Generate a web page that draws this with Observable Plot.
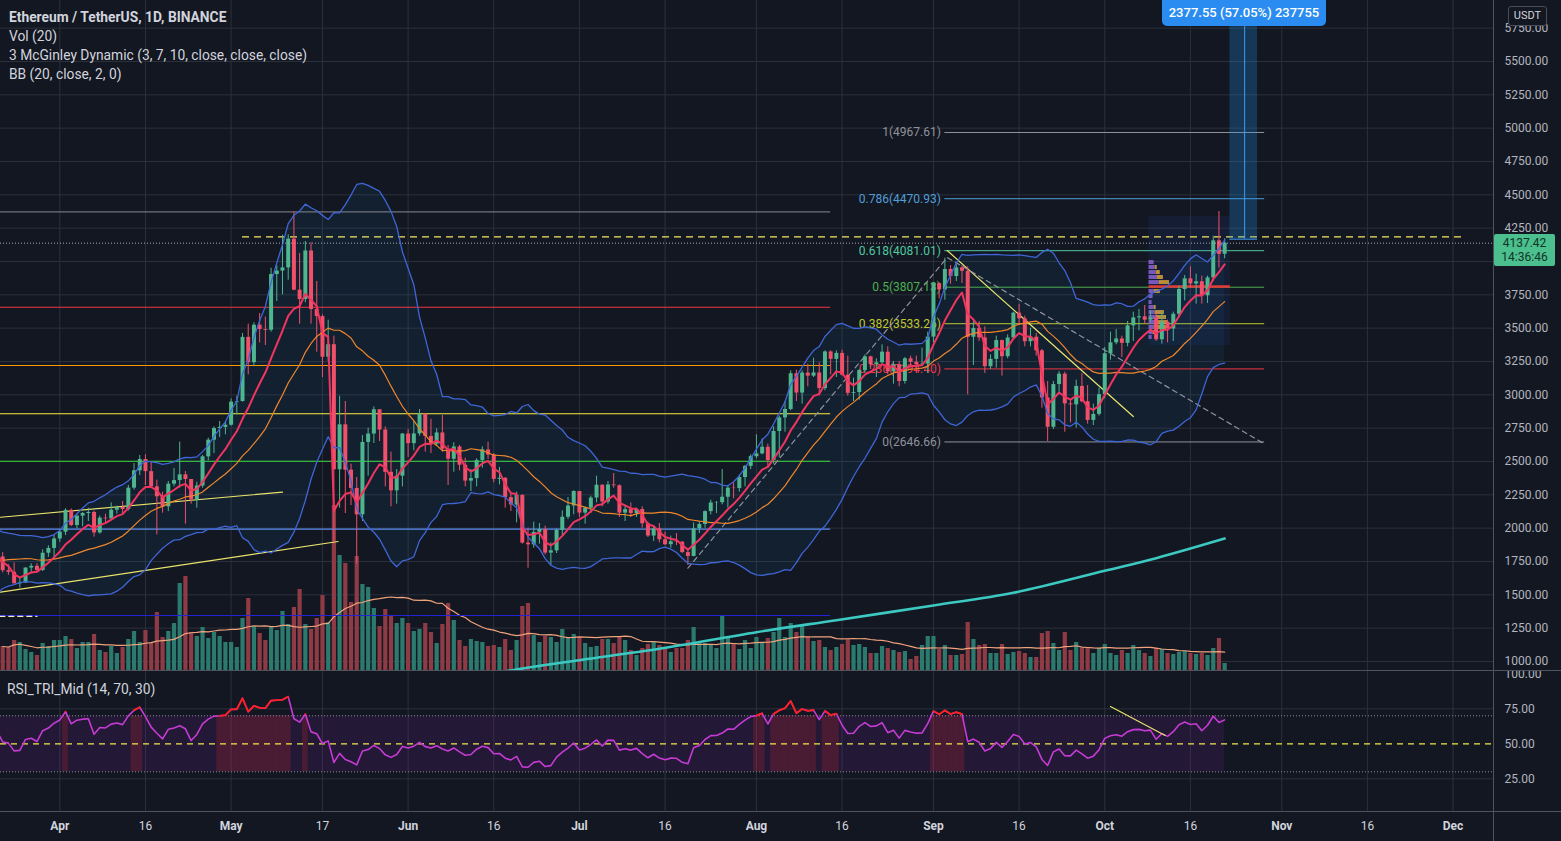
<!DOCTYPE html>
<html><head><meta charset="utf-8">
<script src="https://cdn.jsdelivr.net/npm/d3@7"></script>
<script src="https://cdn.jsdelivr.net/npm/@observablehq/plot@0.6"></script>
<style>
body{margin:0;background:#131722;}
#root{position:relative;width:1561px;height:841px;background:#131722;overflow:hidden;font-family:Roboto,"Liberation Sans",sans-serif;}
.layer{position:absolute;left:0;top:0;}
.layer svg{display:block;}
</style></head>
<body><div id="root"></div>
<script>
// ---------------- DATA ----------------
const startDate = "2021-03-22";
const warmupStart = "2021-03-01";
const warmupCloses = [1565,1478,1575,1541,1533,1654,1723,1834,1868,1796,1826,1772,1924,1854,1791,1806,1822,1782,1810,1806,1784];
const opens = [1784,1681,1669,1583,1588,1701,1714,1683,1812,1848,
1919,1970,2134,2020,2090,2110,2118,1964,2075,2070,2135,2155,2140,2300,2430,2515,2424,2310,2235,2160,2330,2357,2400,2365,2212,2316,2535,2660,2747,2756,
2772,2945,2950,3431,3241,3522,3490,3484,3902,3928,3952,4168,3785,3715,4079,3640,3587,3282,3376,2438,2775,2435,2298,2100,2643,2706,2888,2736,2419,2280,2390,
2706,2634,2707,2855,2688,2630,2714,2592,2517,2609,2472,2353,2372,2508,2587,2548,2366,2374,2229,2174,2246,1888,1875,1968,1990,1813,1830,1983,2082,2166,
2275,2113,2150,2226,2322,2196,2324,2318,2113,2139,2110,2140,2033,1941,1995,1913,1876,1898,1895,1817,1788,1995,2028,2124,2189,2191,2232,2300,2297,2380,2463,
2536,2557,2607,2507,2725,2827,2890,3158,3013,3163,3140,3164,3047,3322,3266,3311,3147,3011,3017,3182,3285,3225,3240,3320,3173,3226,3100,3270,3244,3226,3230,
3433,3834,3787,3940,3887,3952,3927,3432,3497,3427,3211,3266,3407,3286,3426,3613,3570,3398,3432,3330,2977,2757,3077,3155,2932,2925,3063,2948,2808,2853,
3001,3308,3390,3419,3386,3517,3577,3585,3560,3576,3413,3544,3494,3604,3790,3870,3831,3848,3743,3877,4155,4054];
const highs = [1817,1725,1740,1626,1702,1733,1734,1838,1868,1947,
1990,2145,2144,2100,2118,2150,2128,2090,2105,2190,2165,2200,2320,2485,2545,2550,2498,2360,2270,2350,2448,2645,2425,2365,2345,2545,2675,2760,2800,2795,
2970,2990,3460,3530,3540,3610,3583,3950,3970,4197,4200,4372,4060,4150,4140,3850,3600,3560,3440,2990,2950,2480,2380,2695,2750,2910,2890,2760,2570,2440,2710,
2740,2800,2890,2855,2817,2745,2845,2620,2640,2620,2525,2440,2520,2610,2645,2560,2455,2380,2270,2270,2250,2000,2045,2035,2015,1890,1995,2130,2230,2280,
2275,2155,2240,2390,2325,2350,2410,2325,2170,2190,2150,2160,2045,2020,2035,1970,1940,1960,1900,1840,2040,2045,2130,2210,2200,2440,2320,2340,2400,2470,2550,
2700,2670,2630,2760,2840,2950,3180,3185,3180,3230,3275,3240,3330,3330,3330,3335,3290,3125,3190,3300,3290,3270,3375,3360,3250,3250,3280,3290,3290,3350,3470,
3840,3840,4025,3970,3980,3970,3960,3550,3550,3510,3300,3440,3410,3450,3620,3680,3590,3500,3460,3340,3100,3100,3175,3170,2960,3110,3160,3070,2930,3050,
3355,3470,3490,3440,3550,3620,3640,3670,3630,3610,3620,3560,3620,3815,3895,3960,3905,3890,3890,4190,4375,4170];
const lows = [1665,1646,1581,1550,1585,1669,1670,1675,1781,1765,
1895,1945,2011,1995,2010,2050,1933,1955,2040,2055,2105,2110,2128,2285,2395,2320,2305,1950,2112,2125,2310,2300,2030,2180,2150,2300,2505,2560,2680,2700,
2765,2850,2945,3150,3215,3390,3370,3470,3700,3750,3860,3780,3530,3690,3530,3320,3130,3250,1900,2150,2110,2170,1730,2050,2390,2635,2650,2310,2160,2180,2310,
2530,2580,2690,2570,2560,2616,2570,2320,2420,2430,2310,2275,2310,2450,2515,2340,2325,2150,2125,2040,1880,1700,1850,1880,1800,1720,1810,1940,2065,2100,
2080,2030,2110,2190,2160,2180,2300,2080,2050,2080,2080,2000,1930,1900,1890,1870,1850,1870,1810,1720,1785,1960,2000,2100,2110,2175,2150,2220,2270,2310,2440,
2520,2550,2450,2480,2530,2720,2880,2950,2930,3060,3130,2990,3030,3150,3130,3140,2990,2950,2960,3160,3190,3130,3230,3150,3080,3060,3080,3210,3160,3220,3160,
3390,3720,3710,3830,3850,3835,3000,3220,3400,3160,3190,3200,3140,3270,3410,3530,3360,3360,3290,2900,2650,2740,3020,2720,2790,2750,2940,2780,2770,2840,
2970,3260,3375,3280,3360,3400,3480,3530,3540,3400,3380,3390,3400,3580,3705,3800,3680,3680,3685,3850,3950,4020];
const closes = [1681,1669,1583,1588,1701,1714,1683,1812,1848,1919,
1970,2134,2020,2090,2110,2118,1964,2075,2070,2135,2155,2140,2300,2430,2515,2424,2310,2235,2160,2330,2357,2400,2365,2212,2316,2535,2660,2747,2756,2772,
2945,2950,3431,3241,3522,3490,3484,3902,3928,3952,4168,3785,3715,4079,3640,3587,3282,3376,2438,2775,2435,2298,2100,2643,2706,2888,2736,2419,2280,2390,2706,
2634,2707,2855,2688,2630,2714,2592,2517,2609,2472,2353,2372,2508,2587,2548,2366,2374,2229,2174,2246,1888,1875,1968,1990,1813,1830,1983,2082,2166,2275,
2113,2150,2226,2322,2196,2324,2318,2113,2139,2110,2140,2033,1941,1995,1913,1876,1898,1895,1817,1788,1995,2028,2124,2189,2191,2232,2300,2297,2380,2463,2536,
2557,2607,2507,2725,2827,2890,3158,3013,3163,3140,3164,3047,3322,3266,3311,3147,3011,3017,3182,3285,3225,3240,3320,3173,3226,3100,3270,3244,3226,3230,3433,
3834,3787,3940,3887,3952,3927,3432,3497,3427,3211,3266,3407,3286,3426,3613,3570,3398,3432,3330,2977,2757,3077,3155,2932,2925,3063,2948,2808,2853,3001,
3308,3390,3419,3386,3517,3577,3585,3560,3576,3413,3544,3494,3604,3790,3870,3831,3848,3743,3877,4155,4054,4137.42];
// volume, thousand ETH
const volumes = [600,575,750,700,525,450,375,675,600,750,
750,850,775,550,700,700,900,500,450,600,
425,575,775,975,700,1000,675,1450,825,975,
1175,2175,2350,950,850,1075,800,950,850,700,
700,575,1300,1800,1100,925,750,1075,1000,1475,
1150,1575,2025,1150,1025,1300,1875,1200,4125,2875,
2675,1700,2850,2150,2075,1550,1100,1525,1350,1175,
1300,1175,975,1025,1175,950,675,1150,1675,1250,
750,600,775,725,700,600,625,575,775,500,
750,1600,1675,875,700,850,825,700,1025,825,
900,825,675,575,600,775,775,675,850,750,
500,375,550,650,700,625,550,450,550,550,
750,1075,675,675,625,550,1375,850,675,525,
750,550,825,700,800,950,1300,825,1175,950,
1125,850,725,750,575,500,575,650,775,625,
650,575,425,425,600,550,500,450,475,275,
350,625,850,850,525,625,375,375,400,1200,
775,625,650,425,425,650,400,450,475,425,
325,325,925,975,675,500,950,500,700,550,
550,425,550,650,425,375,500,425,625,500,
425,350,550,525,425,400,450,475,425,400,
425,375,550,800,175];
// slow teal average line (read)
const tealDates = ["2021-06-12","2021-06-20","2021-07-01","2021-07-15","2021-08-01","2021-08-15","2021-09-01","2021-09-15","2021-10-01","2021-10-10","2021-10-22"];
const tealValues = [880,940,1010,1095,1220,1310,1420,1515,1680,1775,1922];
// horizontal levels on the left part
const levelPrices = [4372,3657,3220,2858,2502,1993,1345];
const levelEnd = "2021-08-14";
// fibonacci retracement
const fibLow = 2646.66, fibHigh = 4967.61;
const fibRatios = [1,0.786,0.618,0.5,0.382,0.236,0];
const fibStart = "2021-09-03", fibEnd = "2021-10-29";
// resistance & trendlines
const resistancePrice = 4185, resistanceFrom = "2021-05-03", resistanceTo = "2021-12-03";
const trendUpper = [["2021-03-21T15:00Z",2082],["2021-05-10",2270]];
const trendLower = [["2021-03-21T15:00Z",1520],["2021-05-19T18:00Z",1900]];
const trendDown = [["2021-09-03T10:00Z",4082],["2021-10-06",2837]];
const trendDashed = [["2021-07-20",1700],["2021-09-03T10:00Z",4030],["2021-10-28T20:00Z",2635]];
const shortDash = [["2021-03-21T12:00Z",1338],["2021-03-28",1338]];
// volume profile (Oct 9 – Oct 23)
const vpFrom = "2021-10-08T18:00Z", vpTo = "2021-10-23", vpLow = 3370, vpHigh = 4337, vpPoc = 3812;
const vpPrices = [3992,3955,3917,3880,3842,3775,3737,3692,3655,3617,3580,3542,3505,3467,3430];
const vpBuy = [5,6,7,8,10,5,4,3,5,6,7,8,5,4,3];
const vpSell = [0,2,4,6,10,6,0,0,2,9,10,10,12,3,0];
// long position measure
const measureFrom = "2021-10-22T22:00Z", measureTo = "2021-10-27T18:00Z", measureMid = "2021-10-25T12:00Z";
const measureStart = 4167.45, measureDelta = 2377.55, measurePct = 57.05, measureTicks = 237755;
// RSI divergence line
const rsiDiv = [["2021-10-02",76.6],["2021-10-11T14:00Z",55.9]];
// ticks
const priceTicks = [1000,1250,1500,1750,2000,2250,2500,2750,3000,3250,3500,3750,4000,4250,4500,4750,5000,5250,5500,5750];
const priceLabelTicks = [1000,1250,1500,1750,2000,2250,2500,2750,3000,3250,3500,3750,4250,4500,4750,5000,5250,5500,5750]; // 4000 hidden under last-price tag
const rsiTicks = [25,50,75,100];
const dateTicks = ["2021-04-01","2021-04-16","2021-05-01","2021-05-17","2021-06-01","2021-06-16","2021-07-01","2021-07-16","2021-08-01","2021-08-16","2021-09-01","2021-09-16","2021-10-01","2021-10-16","2021-11-01","2021-11-16","2021-12-01"];
const legendLines = ["Ethereum / TetherUS, 1D, BINANCE","Vol (20)","3 McGinley Dynamic (3, 7, 10, close, close, close)","BB (20, close, 2, 0)"];
const rsiLegend = "RSI_TRI_Mid (14, 70, 30)";
const lastTime = "14:36:46";

// ---------------- BUILD ----------------
const DAY = 864e5;
const D = s => new Date(s.length === 10 ? s + "T00:00Z" : s);
const t0 = +D(startDate), tw = +D(warmupStart);
const candles = closes.map((c, i) => ({date: new Date(t0 + i*DAY), open: opens[i], high: highs[i], low: lows[i], close: c, vol: volumes[i], up: c >= opens[i]}));
const lastDate = candles[candles.length-1].date;
const allCloses = warmupCloses.concat(closes);
const allDates = allCloses.map((_, i) => new Date(tw + i*DAY));

function bb(src, n, k){ const up=[], lo=[], mid=[]; for (let i=0;i<src.length;i++){ if(i<n-1){up.push(NaN);lo.push(NaN);mid.push(NaN);continue;} const w=src.slice(i-n+1,i+1); const m=d3.mean(w); const sd=Math.sqrt(d3.mean(w,v=>(v-m)**2)); up.push(m+k*sd); lo.push(m-k*sd); mid.push(m);} return [up,lo,mid]; }
function mcg(src, n){ const out=[]; let mg=NaN; for(const s of src){ mg = isNaN(mg) ? s : mg + (s-mg)/(n*Math.pow(s/mg,4)); out.push(mg);} return out; }
function rsi(src, n){ const out=[NaN]; let ag=0, al=0; for(let i=1;i<src.length;i++){ const ch=src[i]-src[i-1]; const g=Math.max(ch,0), l=Math.max(-ch,0); if(i<=n){ ag+=g/n; al+=l/n; out.push(i===n?100-100/(1+ag/al):NaN);} else { ag=(ag*(n-1)+g)/n; al=(al*(n-1)+l)/n; out.push(100-100/(1+ag/al)); } } return out; }
const [bbU, bbL, bbM] = bb(allCloses, 20, 2);
const mg3 = mcg(allCloses, 3);
const rs = rsi(allCloses, 14);
const ind = allDates.map((d,i)=>({date:d, bbU:bbU[i], bbL:bbL[i], bbM:bbM[i], mg3:mg3[i], rsi:rs[i]}));
const indV = ind.filter(d => !isNaN(d.bbU));
candles.forEach((d,i)=>{ d.volMA = d3.mean(volumes.slice(Math.max(0,i-19), i+1)); });

const xDomain = [new Date(+D("2021-04-01") - 10.385*DAY), new Date(+D("2021-04-01") + 251.08*DAY)];
const priceDomain = [932.5, 5957.5];
const W = 1561, MR = 68;
const UP = "#4fb58e", DN = "#f0506a", VUP = "#2b7a6d", VDN = "#8e3b45";
const GRID = "#2c303b";
const tickDates = dateTicks.map(D);
const baseStyle = {background:"transparent", fontFamily:"Roboto, sans-serif", fontSize:"12px", color:"#b2b5be"};
function base(h, extra){ return Object.assign({width:W, height:h, marginLeft:0, marginRight:MR, marginTop:0, marginBottom:0, x:{type:"utc", domain:xDomain, axis:null}, color:{type:"identity"}, style:baseStyle}, extra); }
const root = document.getElementById("root");
function addLayer(svg, top){ const d=document.createElement("div"); d.className="layer"; d.style.top=top+"px"; d.appendChild(svg); root.appendChild(d); }
const pts = arr => arr.map(([t,v]) => ({date: D(t), v}));

// Layer 1: grid
addLayer(Plot.plot(base(670, {y:{domain:priceDomain, axis:null}, marks:[
  Plot.ruleY(priceTicks, {stroke:GRID}),
  Plot.ruleX(tickDates, {stroke:GRID})
]})), 0);

// Layer 2: volume
addLayer(Plot.plot(base(670, {y:{domain:[0,16750], axis:null}, marks:[
  Plot.ruleX(candles, {x:"date", y1:0, y2:"vol", stroke:d=>d.up?VUP:VDN, strokeWidth:4.2, clip:true}),
  Plot.line(candles, {x:"date", y:"volMA", stroke:"#f0a37c", strokeWidth:1.2, clip:true})
]})), 0);

// Layer 3: price
const fibColors = ["#8f929b","#4f9fd6","#4fc9a0","#4caf50","#c0ca33","#f23645","#8f929b"];
const fibRows = fibRatios.map((r,i)=>({price: fibLow + r*(fibHigh-fibLow), label: `${r}(${(fibLow + r*(fibHigh-fibLow)).toFixed(2)})`, color: fibColors[i]}));
const levelColors = ["#6f727c","#f23645","#ff9800","#ffeb3b","#3ddc3d","#5b8def","#2323d6"];
const vpRows = vpPrices.map((p,i)=>({price:p, buy:vpBuy[i], sell:vpSell[i]}));
const vpUnit = DAY*0.18;
const vpT = +D(vpFrom);
addLayer(Plot.plot(base(670, {y:{domain:priceDomain}, marks:[
  Plot.areaY(indV, {x:"date", y1:"bbL", y2:"bbU", fill:"#2196f3", fillOpacity:0.07, clip:true}),
  Plot.ruleY(levelPrices, {x1:()=>xDomain[0], x2:()=>D(levelEnd), stroke:(d,i)=>levelColors[i], strokeWidth:1.2, clip:true}),
  Plot.ruleY(fibRows, {y:"price", x1:()=>D(fibStart), x2:()=>D(fibEnd), stroke:"color", strokeWidth:1, clip:true}),
  Plot.text(fibRows, {x:()=>D(fibStart), y:"price", text:"label", fill:"color", textAnchor:"end", dx:-4, fontSize:12, clip:true}),
  Plot.rect([0], {x1:()=>D(vpFrom), x2:()=>D(vpTo), y1:vpLow, y2:vpHigh, fill:"#2962ff", fillOpacity:0.08, clip:true}),
  Plot.rect(vpRows, {x1:()=>new Date(vpT), x2:d=>new Date(vpT+d.buy*vpUnit), y1:d=>d.price-15, y2:d=>d.price+15, fill:"#8a63d2", fillOpacity:0.85, clip:true}),
  Plot.rect(vpRows.filter(d=>d.sell>0), {x1:d=>new Date(vpT+d.buy*vpUnit), x2:d=>new Date(vpT+(d.buy+d.sell)*vpUnit), y1:d=>d.price-15, y2:d=>d.price+15, fill:"#d6a13e", fillOpacity:0.85, clip:true}),
  Plot.ruleY([vpPoc], {x1:()=>D(vpFrom), x2:()=>D(vpTo), stroke:"#e53935", strokeWidth:2.5, clip:true}),
  Plot.line(pts(trendUpper), {x:"date", y:"v", stroke:"#e9e36b", strokeWidth:1.2, clip:true}),
  Plot.line(pts(trendLower), {x:"date", y:"v", stroke:"#e9e36b", strokeWidth:1.2, clip:true}),
  Plot.line(pts(trendDown), {x:"date", y:"v", stroke:"#e9e36b", strokeWidth:1.2, clip:true}),
  Plot.line(pts(trendDashed), {x:"date", y:"v", stroke:"#8f929b", strokeWidth:1.2, strokeDasharray:"5,4", clip:true}),
  Plot.line(pts(shortDash), {x:"date", y:"v", stroke:"#f2eec0", strokeWidth:1.2, strokeDasharray:"5,4", clip:true}),
  Plot.ruleY([resistancePrice], {x1:()=>D(resistanceFrom), x2:()=>D(resistanceTo), stroke:"#f5e663", strokeWidth:1.3, strokeDasharray:"7,5", clip:true}),
  Plot.rect([0], {x1:()=>D(measureFrom), x2:()=>D(measureTo), y1:measureStart, y2:measureStart+measureDelta, fill:"#2196f3", fillOpacity:0.25, clip:true}),
  Plot.ruleX([0], {x:()=>D(measureMid), y1:measureStart, y2:measureStart+measureDelta, stroke:"#3d9df5", strokeWidth:1, clip:true}),
  Plot.ruleY([measureStart], {x1:()=>D(measureFrom), x2:()=>D(measureTo), stroke:"#3d9df5", strokeWidth:1, clip:true}),
  Plot.ruleX(candles, {x:"date", y1:"low", y2:"high", stroke:d=>d.up?UP:DN, strokeWidth:1, clip:true}),
  Plot.ruleX(candles, {x:"date", y1:"open", y2:"close", stroke:d=>d.up?UP:DN, strokeWidth:4, clip:true}),
  Plot.line(tealDates.map((t,i)=>({date:D(t), v:tealValues[i]})), {x:"date", y:"v", stroke:"#3cc9c1", strokeWidth:2.6, curve:"catmull-rom", clip:true}),
  Plot.line(indV, {x:"date", y:"bbU", stroke:"#3f66d6", strokeWidth:1.3, clip:true}),
  Plot.line(indV, {x:"date", y:"bbL", stroke:"#3f66d6", strokeWidth:1.3, clip:true}),
  Plot.line(indV, {x:"date", y:"bbM", stroke:"#f0862a", strokeWidth:1.2, clip:true}),
  Plot.line(ind, {x:"date", y:"mg3", stroke:"#f2355f", strokeWidth:2, clip:true}),
  Plot.ruleY([closes[closes.length-1]], {stroke:"#a8abb3", strokeDasharray:"1,2", strokeWidth:1, clip:true}),
  Plot.axisY(priceLabelTicks, {anchor:"right", tickSize:0, tickPadding:11, tickFormat:d=>d.toFixed(2), color:"#b2b5be", fontSize:12})
]})), 0);

// Layer 4: RSI pane + date axis
const monthTicks = tickDates.filter(d=>d.getUTCDate()===1), dayTicks = tickDates.filter(d=>d.getUTCDate()!==1);
const rsiV = ind.filter(d=>!isNaN(d.rsi));
addLayer(Plot.plot({width:W, height:171, marginLeft:0, marginRight:MR, marginTop:0, marginBottom:30,
  x:{type:"utc", domain:xDomain}, y:{domain:[1.64,102.36]}, color:{type:"identity"}, style:baseStyle, marks:[
  Plot.ruleX(tickDates, {stroke:GRID}),
  Plot.ruleY([25,75], {stroke:GRID}),
  Plot.rect([0], {x1:()=>xDomain[0], x2:()=>lastDate, y1:30, y2:70, fill:"#7b1fa2", fillOpacity:0.16, clip:true}),
  Plot.rect(rsiV.filter(d=>d.rsi>70), {x1:d=>new Date(+d.date-DAY/2), x2:d=>new Date(+d.date+DAY/2), y1:30, y2:70, fill:"#d32f2f", fillOpacity:0.22, clip:true}),
  Plot.ruleY([70,30], {stroke:"#8a8d96", strokeDasharray:"1,2", clip:true}),
  Plot.ruleY([50], {stroke:"#f2e64b", strokeDasharray:"6,5", strokeWidth:1.2, clip:true}),
  Plot.line(rsiV, {x:"date", y:"rsi", stroke:"#c53bd3", strokeWidth:1.6, clip:true}),
  Plot.line(rsiV, {x:"date", y:d=>d.rsi>=70?d.rsi:NaN, stroke:"#ff1f1f", strokeWidth:1.8, clip:true}),
  Plot.line(pts(rsiDiv), {x:"date", y:"v", stroke:"#e9e36b", strokeWidth:1.2, clip:true}),
  Plot.axisY(rsiTicks, {anchor:"right", tickSize:0, tickPadding:11, tickFormat:d=>d.toFixed(2), color:"#b2b5be", fontSize:12}),
  Plot.axisX(monthTicks, {anchor:"bottom", tickSize:0, tickPadding:10, tickFormat:d3.utcFormat("%b"), color:"#d1d4dc", fontSize:12, fontWeight:"bold"}),
  Plot.axisX(dayTicks, {anchor:"bottom", tickSize:0, tickPadding:10, tickFormat:d3.utcFormat("%-d"), color:"#d1d4dc", fontSize:12})
]}), 670);

// separators
function div(css, html){ const d=document.createElement("div"); d.style.cssText=css; if(html!==undefined) d.innerHTML=html; root.appendChild(d); return d; }
div("position:absolute;left:0;top:670px;width:1561px;height:1px;background:#50535e");
div("position:absolute;left:0;top:811px;width:1561px;height:1px;background:#50535e");
div("position:absolute;left:1493px;top:0;width:1px;height:841px;background:#50535e");

// legends
legendLines.forEach((t,i)=>{ const d=div(`position:absolute;left:9px;top:${8+i*19}px;color:#d1d4dc;font-size:13.8px;white-space:nowrap;line-height:19px;${i===0?'font-weight:bold;':''}`); d.textContent=t; });
div("position:absolute;left:7px;top:680px;color:#d1d4dc;font-size:13.8px;white-space:nowrap;line-height:19px").textContent = rsiLegend;

// measure label
div("position:absolute;left:1162px;top:0;width:164px;height:26px;background:#2a8cf0;border-radius:0 0 5px 5px;color:#fff;font-size:13px;font-weight:500;text-align:center;line-height:26px;white-space:nowrap").textContent =
  `${measureDelta.toFixed(2)} (${measurePct.toFixed(2)}%) ${measureTicks}`;
// USDT
div("position:absolute;left:1508px;top:6px;width:37px;height:18px;border:1px solid #4a4d57;border-radius:3px;background:#131722;color:#d1d4dc;font-size:11px;text-align:center;line-height:18px").textContent = "USDT";
// last price box
div("position:absolute;left:1494px;top:234px;width:61px;height:32px;background:#4cbf8e;border-radius:2px;color:#0f3325;font-size:12px;text-align:center;line-height:14px;padding-top:2px;box-sizing:border-box",
  `${closes[closes.length-1].toFixed(2)}<br>${lastTime}`);
</script></body></html>
